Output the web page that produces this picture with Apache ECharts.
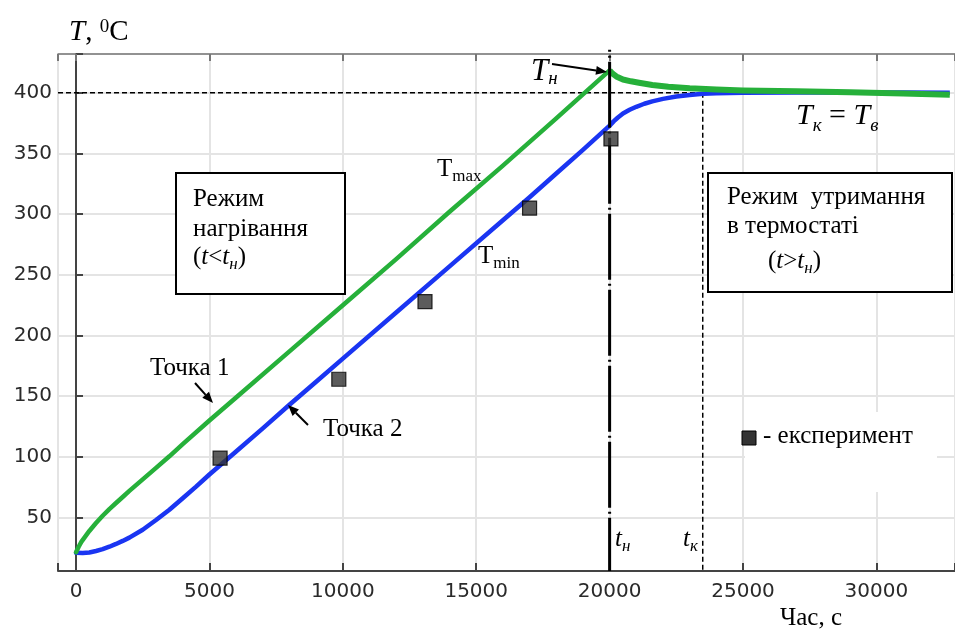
<!DOCTYPE html>
<html>
<head>
<meta charset="utf-8">
<script src="https://cdn.jsdelivr.net/npm/echarts@6/dist/echarts.min.js"></script>
<style>html,body{margin:0;padding:0;background:#fff}#c{width:955px;height:630px}</style>
</head>
<body>
<div id="c"></div>
<script>
// ---- data ----
const tMaxHeatTime = [0,100,200,350,500,750,1000,1250,1500,1750,2000,2500,3000,3500,4000,5000,6000,8000,10000,12000,14000,16000,18000,20000];
const tMaxHeatTemp = [21.5,26,30,34.5,39,45.5,51.5,57,62,67,72,81.5,91,100.5,110.5,130,149,187,225,263,302,340,379,418.5];
const tMaxHoldTime = [20000,20100,20250,20500,20800,21100,21600,22200,23000,24000,25000,27000,29000,31000,32750];
const tMaxHoldTemp = [418.5,416,413.5,411,409.5,408.3,406.5,405,403.8,402.8,402,401.3,400.5,399.5,398.5];
const tMinHeatTime = [0,250,500,750,1000,1250,1500,1750,2000,2500,3000,3500,4000,4500,5000,6000,7000,8000,9000,10000,12000,14000,16000,17000,18000,19000,20000];
const tMinHeatTemp = [21,20.8,21.3,22.5,24,26,28.3,30.8,33.5,40,48,56.5,66,75.5,85.5,104.5,123.5,143,162,181,219,257,295,314,333.5,353,373];
const tMinHoldTime = [20000,20150,20300,20500,20750,21000,21300,21600,22000,22500,23000,23500,24000,25000,27000,29000,31000,32750];
const tMinHoldTemp = [373,376.5,379.5,383,386,388.5,391,393,395,397,398.3,399.2,399.6,400,400.3,400.3,400.2,400];
const expTime = [5400,9850,13080,17000,20050];
const expTemp = [99,164,228,305,362];
const tH = [20000];      // end of heating
const tK = [23490];      // end of transition
const tSet = [400];      // thermostat temperature
const xTickLabels = [0,5000,10000,15000,20000,25000,30000];
const yTickLabels = [50,100,150,200,250,300,350,400];

const X_MIN = -675, X_MAX = 32945, Y_MIN = 6, Y_MAX = 432;
const zip = (a, b) => a.map((v, i) => [v, b[i]]);

const chart = echarts.init(document.getElementById('c'), null, {renderer: 'canvas'});

// text measurement for composed labels
const mctx = document.createElement('canvas').getContext('2d');
function measure(s, font) { mctx.font = font; return mctx.measureText(s).width; }
function seq(x0, base, parts) {
  let x = x0; const out = [];
  for (const p of parts) {
    const fs = p.fs || 25;
    const font = (p.it ? 'italic ' : '') + fs + 'px "Liberation Serif"';
    x += (p.dx || 0);
    out.push({type: 'text', z: 100, x: x, y: base + (p.dy || 0) - 0.3375 * fs,
      style: {text: p.t, font: font, fill: '#000', textAlign: 'left', align: 'left', textVerticalAlign: 'middle', verticalAlign: 'middle'}});
    x += measure(p.t, font);
  }
  return out;
}
function arrow(x0, y0, x1, y1) {
  const ang = Math.atan2(y1 - y0, x1 - x0), L = 11, W = 4.5;
  const bx = x1 - L * Math.cos(ang), by = y1 - L * Math.sin(ang);
  const nx = -Math.sin(ang), ny = Math.cos(ang);
  return [
    {type: 'line', z: 100, shape: {x1: x0, y1: y0, x2: bx, y2: by}, style: {stroke: '#000', lineWidth: 2}},
    {type: 'polygon', z: 100, shape: {points: [[x1, y1], [bx + nx * W, by + ny * W], [bx - nx * W, by - ny * W]]}, style: {fill: '#000'}}
  ];
}
function box(x, y, w, h) {
  return {type: 'rect', z: 90, shape: {x: x, y: y, width: w, height: h}, style: {fill: '#fff', stroke: '#000', lineWidth: 2}};
}

const graphics = [].concat(
  // white patch behind the legend (hides grid lines there)
  [{type: 'rect', z: 1, silent: true, shape: {x: 745, y: 412, width: 192, height: 80}, style: {fill: '#fff'}}],
  // y axis title
  seq(69, 42, [{t: 'T', fs: 29, it: true}, {t: ', ', fs: 29}, {t: '0', fs: 19, dy: -9}, {t: 'C', fs: 29}]),
  // left box
  [box(176, 173, 169, 121)],
  seq(193, 208, [{t: 'Режим'}]),
  seq(193, 237.5, [{t: 'нагрівання'}]),
  seq(193, 266, [{t: '('}, {t: 't', it: true}, {t: '<'}, {t: 't', it: true}, {t: 'н', it: true, fs: 17, dy: 4}, {t: ')'}]),
  // right box
  [box(708, 173, 244, 119)],
  seq(727, 206, [{t: 'Режим  утримання'}]),
  seq(727, 235, [{t: 'в термостаті'}]),
  seq(768, 270, [{t: '('}, {t: 't', it: true}, {t: '>'}, {t: 't', it: true}, {t: 'н', it: true, fs: 17, dy: 4}, {t: ')'}]),
  // curve labels
  seq(437, 178, [{t: 'T', fs: 25}, {t: 'max', fs: 17, dy: 4}]),
  seq(478, 265, [{t: 'T', fs: 25}, {t: 'min', fs: 17, dy: 4}]),
  seq(531, 82, [{t: 'T', fs: 31, it: true}, {t: 'н', fs: 19, it: true, dy: 3}]),
  arrow(552, 64, 607, 72),
  seq(796, 126, [{t: 'T', fs: 30, it: true}, {t: 'к', fs: 19, it: true, dy: 6}, {t: ' = ', fs: 30}, {t: 'T', fs: 30, it: true}, {t: 'в', fs: 19, it: true, dy: 6}]),
  seq(150, 377, [{t: 'Точка 1'}]),
  arrow(195, 383, 213, 403),
  seq(323, 438, [{t: 'Точка 2'}]),
  arrow(308, 425, 288, 405),
  // legend
  [{type: 'rect', z: 100, shape: {x: 742, y: 431, width: 14, height: 14}, style: {fill: '#333', stroke: '#000', lineWidth: 1}}],
  seq(763, 445, [{t: '- експеримент'}]),
  // time markers
  seq(615, 548, [{t: 't', it: true}, {t: 'н', it: true, fs: 17, dy: 4}]),
  seq(683, 548, [{t: 't', it: true}, {t: 'к', it: true, fs: 17, dy: 4}]),
  seq(780, 627, [{t: 'Час, с'}])
);

const axisCommon = {
  type: 'value', min: X_MIN, max: X_MAX, splitNumber: 7
};

const option = {
  animation: false,
  backgroundColor: '#fff',
  grid: {left: 58, right: 0, top: 54, bottom: 59, containLabel: false, outerBoundsMode: 'none'},
  xAxis: [
    Object.assign({}, axisCommon, {
      position: 'bottom',
      axisLine: {show: true, lineStyle: {color: '#444', width: 2}},
      axisTick: {show: true, inside: true, length: 8, lineStyle: {color: '#444', width: 2}},
      axisLabel: {show: true, margin: 11, color: '#2a2a2a', fontSize: 20, fontFamily: 'DejaVu Sans',
        formatter: v => (xTickLabels.indexOf(v) >= 0 ? String(v) : '')},
      splitLine: {show: true, lineStyle: {color: '#e4e4e4', width: 2}}
    }),
    Object.assign({}, axisCommon, {
      position: 'top',
      axisLine: {show: true, lineStyle: {color: '#777', width: 1.5}},
      axisTick: {show: true, inside: true, length: 7, lineStyle: {color: '#777', width: 2}},
      axisLabel: {show: false},
      splitLine: {show: false}
    })
  ],
  yAxis: {
    type: 'value', min: Y_MIN, max: Y_MAX, splitNumber: 8,
    axisLine: {show: true, lineStyle: {color: '#444', width: 2}},
    axisTick: {show: true, inside: true, length: 7, lineStyle: {color: '#444', width: 2}},
    axisLabel: {show: true, margin: 6, color: '#2a2a2a', fontSize: 20, fontFamily: 'DejaVu Sans',
      formatter: v => (yTickLabels.indexOf(v) >= 0 ? String(v) : '')},
    splitLine: {show: true, lineStyle: {color: '#e4e4e4', width: 2}}
  },
  series: [
    {type: 'line', name: 'set', data: [[X_MIN, tSet[0]], [tK[0], tSet[0]]], symbol: 'none', z: 3,
      lineStyle: {color: '#000', width: 1.5, type: [5, 3]}},
    {type: 'line', name: 'tk', data: [[tK[0], tSet[0]], [tK[0], Y_MIN]], symbol: 'none', z: 3,
      lineStyle: {color: '#000', width: 1.5, type: [5, 3]}},
    {type: 'line', name: 'TminHeat', data: zip(tMinHeatTime, tMinHeatTemp), symbol: 'none', smooth: false, z: 4,
      lineStyle: {color: '#1a35f2', width: 4.5, join: 'round', cap: 'round'}},
    {type: 'line', name: 'TminHold', data: zip(tMinHoldTime, tMinHoldTemp), symbol: 'none', smooth: false, z: 4,
      lineStyle: {color: '#1a35f2', width: 4.5, join: 'round'}},
    {type: 'line', name: 'TmaxHeat', data: zip(tMaxHeatTime, tMaxHeatTemp), symbol: 'none', smooth: false, z: 5,
      lineStyle: {color: '#26b03a', width: 4.5, join: 'round', cap: 'round'}},
    {type: 'line', name: 'TmaxHold', data: zip(tMaxHoldTime, tMaxHoldTemp), symbol: 'none', smooth: false, z: 5,
      lineStyle: {color: '#26b03a', width: 6, join: 'round'}},
    {type: 'line', name: 'th', data: [[tH[0], 435.5], [tH[0], Y_MIN]], symbol: 'none', z: 6, clip: false,
      lineStyle: {color: '#000', width: 3, type: [66, 4, 2, 4], dashOffset: 64}},
    {type: 'scatter', name: 'exp', data: zip(expTime, expTemp), symbol: 'rect', symbolSize: 14, z: 7,
      itemStyle: {color: '#333', borderColor: '#000', borderWidth: 1.2}}
  ],
  graphic: {elements: graphics}
};
chart.setOption(option);
</script>
</body>
</html>
